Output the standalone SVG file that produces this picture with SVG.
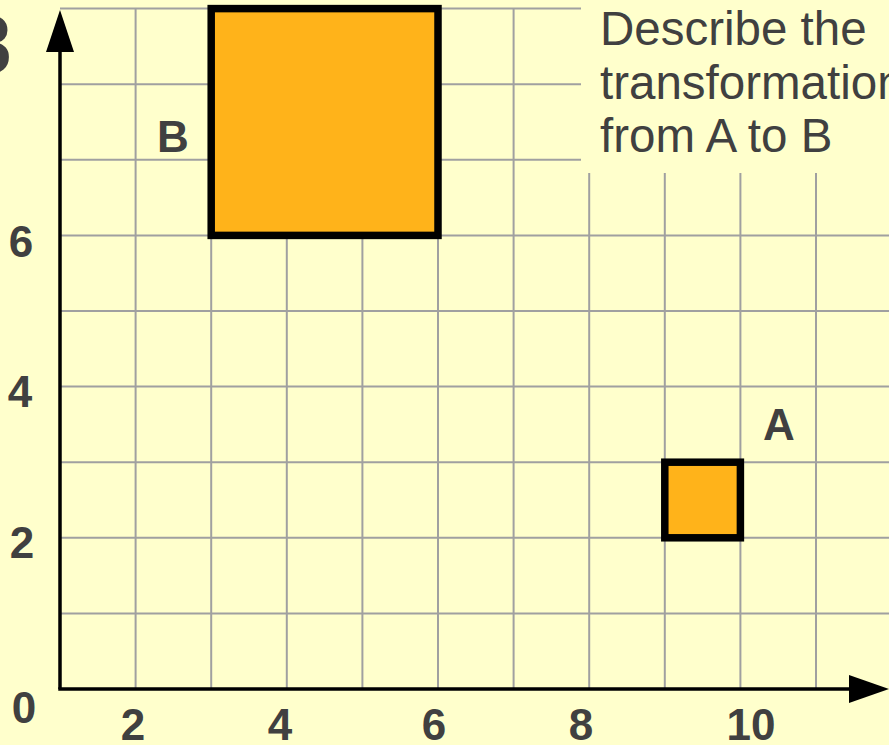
<svg xmlns="http://www.w3.org/2000/svg" width="889" height="745" viewBox="0 0 889 745">
  <style>
    .grid line { stroke: #A0A0A0; stroke-width: 2; }
    .axis { stroke: #000; stroke-width: 3.5; fill: none; }
    .tick { font-family: "Liberation Sans", Arial, sans-serif; font-weight: bold; font-size: 44px; fill: #404040; text-anchor: middle; }
    .lbl { font-family: "Liberation Sans", Arial, sans-serif; font-weight: bold; font-size: 44px; fill: #404040; text-anchor: middle; }
    .desc { font-family: "Liberation Sans", Arial, sans-serif; font-size: 47.5px; fill: #404040; }
    .shape { fill: #FFB31A; stroke: #000; stroke-width: 7.5; }
  </style>
  <rect x="0" y="0" width="889" height="745" fill="#FFFFCC"/>

  <g id="grid" class="grid">
    <line x1="135.6" y1="8.6" x2="135.6" y2="689"/>
    <line x1="211.2" y1="8.6" x2="211.2" y2="689"/>
    <line x1="286.8" y1="8.6" x2="286.8" y2="689"/>
    <line x1="362.4" y1="8.6" x2="362.4" y2="689"/>
    <line x1="438" y1="8.6" x2="438" y2="689"/>
    <line x1="513.6" y1="8.6" x2="513.6" y2="689"/>
    <line x1="589.2" y1="8.6" x2="589.2" y2="689"/>
    <line x1="664.8" y1="8.6" x2="664.8" y2="689"/>
    <line x1="740.4" y1="8.6" x2="740.4" y2="689"/>
    <line x1="816" y1="8.6" x2="816" y2="689"/>
    <line x1="60" y1="613.4" x2="889" y2="613.4"/>
    <line x1="60" y1="537.8" x2="889" y2="537.8"/>
    <line x1="60" y1="462.2" x2="889" y2="462.2"/>
    <line x1="60" y1="386.6" x2="889" y2="386.6"/>
    <line x1="60" y1="311" x2="889" y2="311"/>
    <line x1="60" y1="235.4" x2="889" y2="235.4"/>
    <line x1="60" y1="159.8" x2="889" y2="159.8"/>
    <line x1="60" y1="84.2" x2="889" y2="84.2"/>
    <line x1="60" y1="8.6" x2="889" y2="8.6"/>
  </g>

  <g id="description">
    <rect x="581" y="0" width="308" height="173" fill="#FFFFCC"/>
    <text class="desc" x="600" y="45">Describe the</text>
    <text class="desc" x="600" y="99">transformation</text>
    <text class="desc" x="600" y="152">from A to B</text>
  </g>

  <g id="connectors">
    <line class="axis" x1="60" y1="689" x2="60" y2="48"/>
    <polygon points="60,10 46,52 74,52" fill="#000"/>
    <line class="axis" x1="58.25" y1="689" x2="852" y2="689"/>
    <polygon points="889,689 849,675 849,703" fill="#000"/>
  </g>

  <g id="ticks">
    <text class="lbl" x="-12" y="73" style="font-size:84px">8</text>
    <text class="tick" x="21" y="257">6</text>
    <text class="tick" x="20" y="407">4</text>
    <text class="tick" x="22" y="558">2</text>
    <text class="tick" x="24" y="723">0</text>
    <text class="tick" x="133" y="740">2</text>
    <text class="tick" x="280" y="740">4</text>
    <text class="tick" x="434" y="740">6</text>
    <text class="tick" x="581" y="740">8</text>
    <text class="tick" x="751" y="740">10</text>
  </g>

  <g id="shapeB">
    <rect class="shape" x="211.2" y="8.6" width="226.8" height="226.8"/>
    <text class="lbl" x="173" y="152">B</text>
  </g>

  <g id="shapeA">
    <rect class="shape" x="664.8" y="462.2" width="75.6" height="75.6"/>
    <text class="lbl" x="779" y="440">A</text>
  </g>
</svg>
